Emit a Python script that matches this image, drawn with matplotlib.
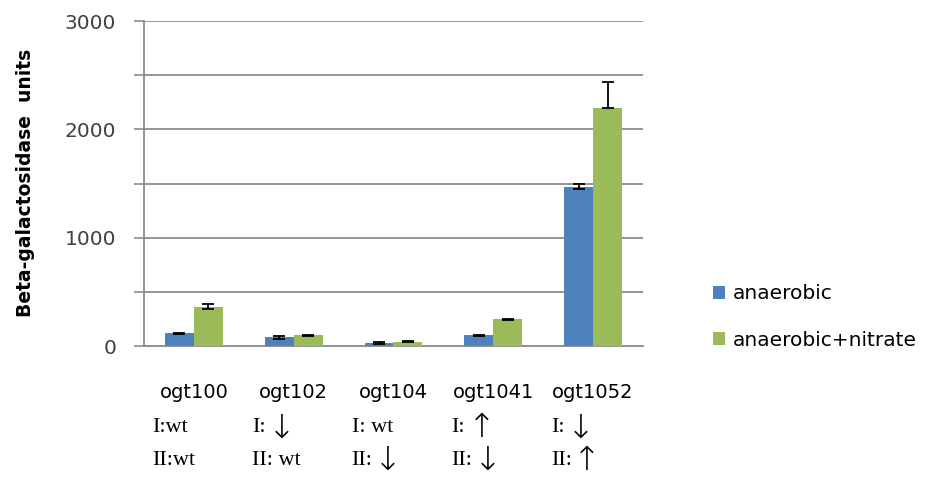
import numpy as np
import matplotlib.pyplot as plt
from matplotlib.transforms import blended_transform_factory

# data
strains = ["ogt100", "ogt102", "ogt104", "ogt1041", "ogt1052"]
site_I = ["wt", "down", "wt", "up", "down"]
site_II = ["wt", "wt", "down", "down", "up"]

anaerobic = [117, 80, 25, 98, 1470]
anaerobic_err = [6, 12, 10, 5, 25]

nitrate = [363, 98, 40, 246, 2194]
nitrate_err_lo = [25, 5, 5, 5, 0]
nitrate_err_hi = [25, 5, 5, 5, 240]

yticks = [0, 500, 1000, 1500, 2000, 2500, 3000]
yticklabels = ["0", "", "1000", "", "2000", "", "3000"]

series_names = ["anaerobic", "anaerobic+nitrate"]
blue = "#4F81BD"
green = "#9BBB59"
grid_gray = "#8C8C8C"
arrows = {"up": "\u2191", "down": "\u2193"}

W, H = 939, 478
fig = plt.figure(figsize=(W / 100, H / 100), dpi=100)
ax = fig.add_axes([144 / W, (H - 346) / H, 499 / W, 325 / H])

x = np.arange(len(strains))
bw = 0.29
b1 = ax.bar(x - bw / 2, anaerobic, bw, color=blue, zorder=3, label=series_names[0])
b2 = ax.bar(x + bw / 2, nitrate, bw, color=green, zorder=3, label=series_names[1])
ax.errorbar(x - bw / 2, anaerobic, yerr=anaerobic_err, fmt="none", ecolor="black",
            elinewidth=1.3, capsize=4, capthick=1.3, zorder=4)
ax.errorbar(x + bw / 2, nitrate, yerr=[nitrate_err_lo, nitrate_err_hi], fmt="none",
            ecolor="black", elinewidth=1.3, capsize=4, capthick=1.3, zorder=4)

ax.set_xlim(-0.5, len(strains) - 0.5)
ax.set_ylim(0, 3000)
ax.set_yticks(yticks)
ax.set_yticklabels(yticklabels, fontsize=14.5, color="#404040")
ax.tick_params(axis="y", direction="out", length=7, width=1.2, color=grid_gray, pad=13)
ax.set_xticks([])
ax.yaxis.grid(True, color=grid_gray, linewidth=1.3, zorder=0)
ax.set_axisbelow(True)
for s in ["top", "right"]:
    ax.spines[s].set_visible(False)
for s in ["left", "bottom"]:
    ax.spines[s].set_color(grid_gray)
    ax.spines[s].set_linewidth(1.3)

fig.text(26 / W, 1 - 183 / H, "Beta-galactosidase  units", rotation=90,
         fontsize=13.5, fontweight="bold", ha="center", va="center")

# strain names and mutation rows under the axis
tr = blended_transform_factory(ax.transData, ax.transAxes)
for i, name in enumerate(strains):
    ax.text(i, -0.142, name, transform=tr, ha="center", va="center", fontsize=14)
    for prefix, val, yy in [("I:", site_I[i], -0.252), ("II:", site_II[i], -0.351)]:
        if val == "wt":
            ax.text(i - 0.42, yy, prefix + ("wt" if i == 0 else " wt"), transform=tr,
                    ha="left", va="center", fontsize=16, family="Liberation Serif")
        else:
            ax.text(i - 0.42, yy, prefix, transform=tr, ha="left", va="center",
                    fontsize=16, family="Liberation Serif")
            off = 0.3 if prefix == "I:" else 0.36
            ax.text(i - 0.42 + off, yy, arrows[val], transform=tr, ha="center",
                    va="center", fontsize=24, family="DejaVu Sans", fontweight="light")

fig.legend(handles=[b1, b2], labels=series_names, loc="center left",
           bbox_to_anchor=(713 / W, 1 - 317 / H), frameon=False, fontsize=14.5,
           handlelength=0.6, handleheight=0.6, handletextpad=0.4, labelspacing=1.35,
           borderpad=0, borderaxespad=0)

fig.savefig("out.png", dpi=100)
